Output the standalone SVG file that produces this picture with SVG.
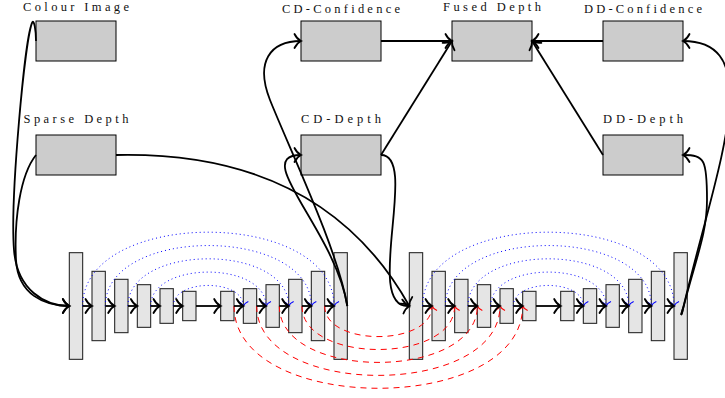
<svg xmlns="http://www.w3.org/2000/svg" width="725" height="398" viewBox="0 0 725 398">
<defs>
<style>
.box{fill:#cccccc;stroke:#000;stroke-width:1}
.blk{fill:#e5e5e5;stroke:#2a2a2a;stroke-width:1.1}
.lbl{font-family:"Liberation Serif","DejaVu Serif",serif;font-size:12.5px;fill:#111;text-anchor:middle}
.c{fill:none;stroke:#000;stroke-width:1.8;marker-end:url(#ak)}
.f{fill:none;stroke:#000;stroke-width:1.8;marker-end:url(#ak)}
.sk{fill:none;stroke:#0000ff;stroke-width:1;stroke-dasharray:1 3;marker-end:url(#ab)}
.rd{fill:none;stroke:#ff0000;stroke-width:1;stroke-dasharray:6 5;marker-end:url(#ar)}
</style>
<marker id="ak" markerUnits="userSpaceOnUse" viewBox="-9 -9 11 18" markerWidth="11" markerHeight="18" refX="0" refY="0" orient="auto" overflow="visible">
<path d="M-6.5,-7 C-4.8,-3.5 -1.8,-0.9 0,0 C-1.8,0.9 -4.8,3.5 -6.5,7" fill="none" stroke="#000" stroke-width="1.8" stroke-linecap="round"/>
</marker>
<marker id="ab" markerUnits="userSpaceOnUse" viewBox="-6 -6 8 12" markerWidth="8" markerHeight="12" refX="0" refY="0" orient="auto" overflow="visible">
<path d="M-4.5,-5 C-3.3,-2.4 -1.3,-0.6 0,0 C-1.3,0.6 -3.3,2.4 -4.5,5" fill="none" stroke="#0000ff" stroke-width="1.1"/>
</marker>
<marker id="ar" markerUnits="userSpaceOnUse" viewBox="-6 -6 8 12" markerWidth="8" markerHeight="12" refX="0" refY="0" orient="auto" overflow="visible">
<path d="M-4.5,-5 C-3.3,-2.4 -1.3,-0.6 0,0 C-1.3,0.6 -3.3,2.4 -4.5,5" fill="none" stroke="#ff0000" stroke-width="1.1"/>
</marker>
</defs>
<rect width="725" height="398" fill="#fff"/>

<g id="colour-image"><rect class="box" x="36" y="21" width="80" height="40"/><text class="lbl" x="76" y="11.2" textLength="106" lengthAdjust="spacing">Colour Image</text></g>
<g id="sparse-depth"><rect class="box" x="36" y="135" width="80" height="40"/><text class="lbl" x="76" y="123" textLength="105" lengthAdjust="spacing">Sparse Depth</text></g>
<g id="cd-confidence"><rect class="box" x="301" y="21" width="80" height="40"/><text class="lbl" x="341" y="12.8" textLength="118" lengthAdjust="spacing">CD-Confidence</text></g>
<g id="cd-depth"><rect class="box" x="301" y="135" width="80" height="40"/><text class="lbl" x="341" y="123" textLength="80" lengthAdjust="spacing">CD-Depth</text></g>
<g id="fused-depth"><rect class="box" x="452" y="21" width="80" height="40"/><text class="lbl" x="492" y="11.2" textLength="98" lengthAdjust="spacing">Fused Depth</text></g>
<g id="dd-confidence"><rect class="box" x="603" y="21" width="80" height="40"/><text class="lbl" x="643" y="12.8" textLength="118" lengthAdjust="spacing">DD-Confidence</text></g>
<g id="dd-depth"><rect class="box" x="603" y="135" width="80" height="40"/><text class="lbl" x="643" y="123" textLength="80" lengthAdjust="spacing">DD-Depth</text></g>

<g id="net1">
<g id="n1e1"><rect class="blk" x="69.33" y="252.67" width="13.33" height="106.67"/></g>
<g id="n1e2"><rect class="blk" x="92" y="271.33" width="13.33" height="69.33"/></g>
<g id="n1e3"><rect class="blk" x="114.67" y="279.33" width="13.33" height="53.33"/></g>
<g id="n1e4"><rect class="blk" x="137.33" y="284.67" width="13.33" height="42.67"/></g>
<g id="n1e5"><rect class="blk" x="160" y="288.67" width="13.33" height="34.67"/></g>
<g id="n1e6"><rect class="blk" x="182.67" y="291.33" width="13.33" height="29.33"/></g>
<g id="n1d1"><rect class="blk" x="220.67" y="291.33" width="13.33" height="29.33"/></g>
<g id="n1d2"><rect class="blk" x="243.33" y="288.67" width="13.33" height="34.67"/></g>
<g id="n1d3"><rect class="blk" x="266" y="284.67" width="13.33" height="42.67"/></g>
<g id="n1d4"><rect class="blk" x="288.67" y="279.33" width="13.33" height="53.33"/></g>
<g id="n1d5"><rect class="blk" x="311.33" y="271.33" width="13.33" height="69.33"/></g>
<g id="n1d6"><rect class="blk" x="334" y="252.67" width="13.33" height="106.67"/></g>
</g>
<g id="net2">
<g id="n2e1"><rect class="blk" x="409.33" y="252.67" width="13.33" height="106.67"/></g>
<g id="n2e2"><rect class="blk" x="432" y="271.33" width="13.33" height="69.33"/></g>
<g id="n2e3"><rect class="blk" x="454.67" y="279.33" width="13.33" height="53.33"/></g>
<g id="n2e4"><rect class="blk" x="477.33" y="284.67" width="13.33" height="42.67"/></g>
<g id="n2e5"><rect class="blk" x="500" y="288.67" width="13.33" height="34.67"/></g>
<g id="n2e6"><rect class="blk" x="522.67" y="291.33" width="13.33" height="29.33"/></g>
<g id="n2d1"><rect class="blk" x="560.67" y="291.33" width="13.33" height="29.33"/></g>
<g id="n2d2"><rect class="blk" x="583.33" y="288.67" width="13.33" height="34.67"/></g>
<g id="n2d3"><rect class="blk" x="606" y="284.67" width="13.33" height="42.67"/></g>
<g id="n2d4"><rect class="blk" x="628.67" y="279.33" width="13.33" height="53.33"/></g>
<g id="n2d5"><rect class="blk" x="651.33" y="271.33" width="13.33" height="69.33"/></g>
<g id="n2d6"><rect class="blk" x="674" y="252.67" width="13.33" height="106.67"/></g>
</g>

<g id="connectors">
<path class="sk" d="M82.67,306 C82.67,207.6 334,207.6 334,306"/>
<path class="sk" d="M105.33,306 C105.33,225.4 311.33,225.4 311.33,306"/>
<path class="sk" d="M128,306 C128,243.1 288.67,243.1 288.67,306"/>
<path class="sk" d="M150.67,306 C150.67,260.8 266,260.8 266,306"/>
<path class="sk" d="M173.33,306 C173.33,278.6 243.33,278.6 243.33,306"/>
<path class="sk" d="M422.67,306 C422.67,207.6 674,207.6 674,306"/>
<path class="sk" d="M445.33,306 C445.33,225.4 651.33,225.4 651.33,306"/>
<path class="sk" d="M468,306 C468,243.1 628.67,243.1 628.67,306"/>
<path class="sk" d="M490.67,306 C490.67,260.8 606,260.8 606,306"/>
<path class="sk" d="M513.33,306 C513.33,278.6 583.33,278.6 583.33,306"/>
<path class="rd" d="M234,306 C234,415.7 522.67,415.7 522.67,306"/>
<path class="rd" d="M256.67,306 C256.67,398.5 500,398.5 500,306"/>
<path class="rd" d="M279.33,306 C279.33,381.2 477.33,381.2 477.33,306"/>
<path class="rd" d="M302,306 C302,364 454.67,364 454.67,306"/>
<path class="rd" d="M324.67,306 C324.67,346.8 432,346.8 432,306"/>
<path class="f" d="M82.67,306 H92"/>
<path class="f" d="M105.33,306 H114.67"/>
<path class="f" d="M128,306 H137.33"/>
<path class="f" d="M150.67,306 H160"/>
<path class="f" d="M173.33,306 H182.67"/>
<path class="f" d="M196,306 H220.67"/>
<path class="f" d="M234,306 H243.33"/>
<path class="f" d="M256.67,306 H266"/>
<path class="f" d="M279.33,306 H288.67"/>
<path class="f" d="M302,306 H311.33"/>
<path class="f" d="M324.67,306 H334"/>
<path class="f" d="M422.67,306 H432"/>
<path class="f" d="M445.33,306 H454.67"/>
<path class="f" d="M468,306 H477.33"/>
<path class="f" d="M490.67,306 H500"/>
<path class="f" d="M513.33,306 H522.67"/>
<path class="f" d="M536,306 H560.67"/>
<path class="f" d="M574,306 H583.33"/>
<path class="f" d="M596.67,306 H606"/>
<path class="f" d="M619.33,306 H628.67"/>
<path class="f" d="M642,306 H651.33"/>
<path class="f" d="M664.67,306 H674"/>
<path class="c" d="M36,41 C36,30 34,20 32.5,22 C25,35 10,200 14,250 C17,290 45,306 69.33,306"/>
<path class="c" d="M36,155 C20,175 14,220 16,260 C18,295 45,306 69.33,306"/>
<path class="c" d="M116,155 C250,152 350,200 409.33,306"/>
<path class="c" d="M381,155 C420,155 362,310 409.33,306"/>
<path class="c" d="M347.33,306 C338,250 290,150 270,100 C255,62 270,41 301,41"/>
<path class="c" d="M347.33,306 C335,230 250,155 301,155"/>
<path class="c" d="M381,41 H452"/>
<path class="c" d="M381,155 L452,41"/>
<path class="c" d="M603,41 H532"/>
<path class="c" d="M603,155 L532,41"/>
<path class="c" d="M684,305 Q680,318 682,313 C715,170 770,41 683,41"/>
<path class="c" d="M684,305 Q680,318 682,313 C695,260 707,235 707,200 C707,160 705,155 683,155"/>
</g>
</svg>
